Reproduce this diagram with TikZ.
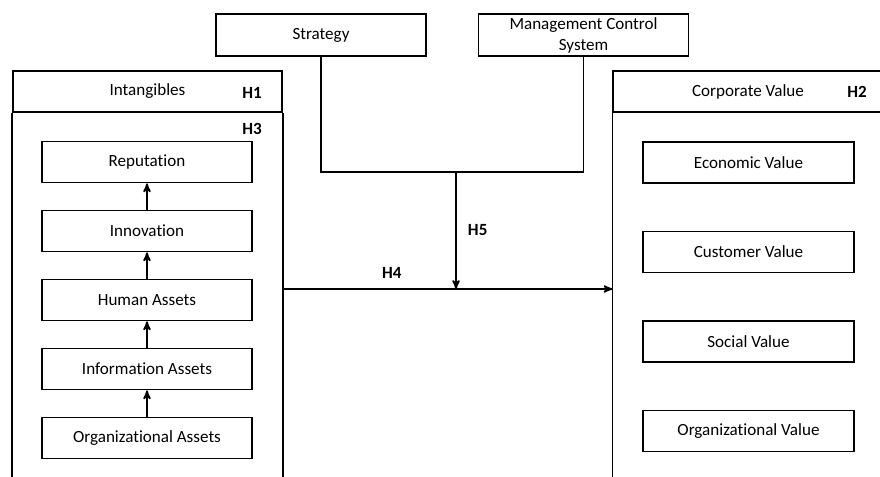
\documentclass[tikz,border=0pt]{standalone}
\usepackage{fontspec}
\setmainfont{Carlito}[Ligatures=NoCommon]
\usepackage{tikz}
\usetikzlibrary{arrows,positioning}

\begin{document}
\begin{tikzpicture}[x=0.75pt,y=-0.75pt,>=stealth',line width=1.3pt,
node distance=51.75pt,font=\fontsize{12.8}{15}\selectfont]
\tikzstyle{item}=[draw,minimum width=157.5pt,minimum height=30.75pt,inner sep=0pt]
\tikzstyle{head}=[draw,minimum width=202pt,minimum height=30.75pt,inner sep=0pt]
\tikzstyle{hyp}=[font=\fontsize{12.8}{15}\selectfont\bfseries]
\useasboundingbox (0,0) rectangle (880,477);
\clip (0,0) rectangle (880,477);
\node[head] (intang) at (147.5,91.5) {Intangibles};
\node[hyp] (h1) at (252,93) {H1};
\node[hyp] (h3) at (252,129) {H3};
\draw (intang.south west) -- ++(0,370) (intang.south east) -- ++(0,370);
\node[item] (org) at (147,438) {Organizational Assets};
\node[item] (info) [above of=org] {Information Assets};
\node[item] (human) [above of=info] {Human Assets};
\node[item] (innov) [above of=human] {Innovation};
\node[item] (rep) [above of=innov] {Reputation};
\path[->] (org) edge (info)
      (info) edge (human)
      (human) edge (innov)
      (innov) edge (rep);
\node[item,minimum height=31.5pt] (strat) at (321,35) {Strategy};
\node[item,minimum height=31.5pt,align=center,font=\fontsize{12.8}{15.75}\selectfont]
  (mcs) at (583.5,35) {Management Control\\System};
\coordinate (join) at (456,172);
\coordinate (meet) at (456,289);
\draw (strat.south) |- (join) -| (mcs.south);
\draw[->] (join) -- node[hyp,right=5pt] {H5} (meet);
\node[head] (corp) at (748,91.5) {Corporate Value};
\node[hyp] (h2) at (857,92) {H2};
\draw (corp.south west) -- ++(0,370);
\draw[->] (intang.south east |- meet) -- node[hyp,above=4pt,pos=0.33] {H4} (corp.south west |- meet);
\node[item,minimum width=158pt] (econ) at (748.5,162.5) {Economic Value};
\node[item,minimum width=158pt] (cust) [below of=econ,node distance=67.1pt] {Customer Value};
\node[item,minimum width=158pt] (social) [below of=cust,node distance=67.1pt] {Social Value};
\node[item,minimum width=158pt] (orgval) [below of=social,node distance=67.1pt] {Organizational Value};
\end{tikzpicture}
\end{document}
